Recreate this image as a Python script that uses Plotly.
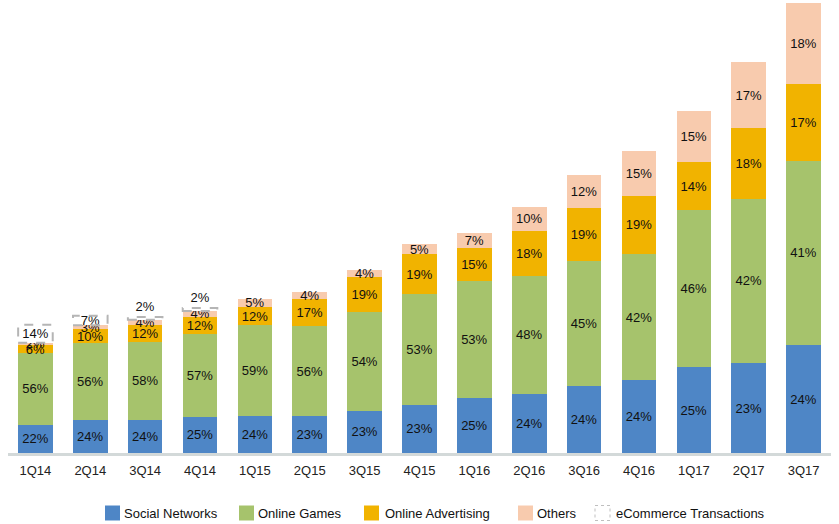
import plotly.graph_objects as go

# ---------------- data ----------------
quarters = ["1Q14", "2Q14", "3Q14", "4Q14", "1Q15", "2Q15", "3Q15", "4Q15",
            "1Q16", "2Q16", "3Q16", "4Q16", "1Q17", "2Q17", "3Q17"]
# quarterly total revenue (RMB bn)
totals = [18.6, 19.9, 19.7, 21.0, 22.3, 23.3, 26.5, 30.3,
          31.9, 35.7, 40.3, 43.8, 49.6, 56.7, 65.2]
# revenue mix (%)
pct_social = [22, 24, 24, 25, 24, 23, 23, 23, 25, 24, 24, 24, 25, 23, 24]
pct_games = [56, 56, 58, 57, 59, 56, 54, 53, 53, 48, 45, 42, 46, 42, 41]
pct_ads = [6, 10, 12, 12, 12, 17, 19, 19, 15, 18, 19, 19, 14, 18, 17]
pct_others = [2, 3, 4, 4, 5, 4, 4, 5, 7, 10, 12, 15, 15, 17, 18]
pct_ecom = [14, 7, 2, 2, None, None, None, None, None, None, None, None, None, None, None]

series_names = ["Social Networks", "Online Games", "Online Advertising", "Others",
                "eCommerce Transactions"]
series_pcts = [pct_social, pct_games, pct_ads, pct_others, pct_ecom]
colors = ["#4E86C6", "#A6C36C", "#F1B300", "#F8CBAE", "#FFFFFF"]

FONT = "Arial, Liberation Sans, sans-serif"
W, H = 839, 524
ML, MR, MT, MB = 8, 8, 0, 71
PW, PH = W - ML - MR, H - MT - MB
PX_PER_UNIT = 6.9

fig = go.Figure()

for name, pcts, col in zip(series_names, series_pcts, colors):
    vals = [None if p is None else t * p / 100 for t, p in zip(totals, pcts)]
    texts = ["" if p is None else f"{p}%" for p in pcts]
    if name == "eCommerce Transactions":
        tpos = ["inside", "inside", "outside", "outside"] + ["inside"] * 11
    else:
        tpos = "inside"
    fig.add_trace(go.Bar(
        x=quarters, y=vals, name=name,
        marker=dict(color=col, line=dict(width=0)),
        text=texts, textposition=tpos, insidetextanchor="middle",
        textangle=0, constraintext="none",
        textfont=dict(family=FONT, size=13, color="#111111"),
        outsidetextfont=dict(family=FONT, size=13, color="#111111"),
        cliponaxis=False, showlegend=False, hoverinfo="skip",
    ))

# dashed outline of eCommerce segments (positioned from data)
half = (1 - 0.37) / 2
for i, p in enumerate(pct_ecom):
    if p is None:
        continue
    top = totals[i]
    base = top - totals[i] * p / 100
    fig.add_shape(type="rect", xref="x", yref="y",
                  x0=i - half, x1=i + half, y0=base, y1=top,
                  line=dict(color="#B5B5B5", width=2, dash="dash"),
                  fillcolor="rgba(0,0,0,0)", layer="above")

# manual legend
legend_y_px = 513
legend_items = [  # (square left px, text left px)
    (105, 122), (239, 256), (364, 383), (518, 535), (595, 614)]
yanc = (H - MB - legend_y_px) / PH
for (sq, tx), name, col in zip(legend_items, series_names, colors):
    if name == "eCommerce Transactions":
        line = dict(color="#BFBFBF", width=1, dash="dot")
    else:
        line = dict(width=0)
    fig.add_shape(type="rect", xref="paper", yref="paper",
                  xsizemode="pixel", ysizemode="pixel",
                  xanchor=(sq - ML) / PW, yanchor=yanc,
                  x0=0, x1=15, y0=-7.5, y1=7.5,
                  fillcolor=col, line=line)
    fig.add_annotation(text=name, xref="paper", yref="paper",
                       x=(tx - ML) / PW, y=yanc, xanchor="left", yanchor="middle",
                       showarrow=False, font=dict(family=FONT, size=13, color="#111111"))

fig.update_layout(
    width=W, height=H,
    margin=dict(l=ML, r=MR, t=MT, b=MB),
    barmode="stack", bargap=0.37,
    plot_bgcolor="white", paper_bgcolor="white",
    showlegend=False,
    uniformtext=dict(minsize=13, mode="show"),
    xaxis=dict(showline=True, linecolor="#D3D9D9", linewidth=3, ticks="",
               showgrid=False, zeroline=False, ticklabelstandoff=3,
               tickfont=dict(family=FONT, size=13, color="#222222")),
    yaxis=dict(visible=False, range=[0, PH / PX_PER_UNIT], showgrid=False, zeroline=False),
)

fig.write_html("out.html",
               config={"displayModeBar": False},
               post_script="document.body.style.margin='0';document.body.style.overflow='hidden';")
